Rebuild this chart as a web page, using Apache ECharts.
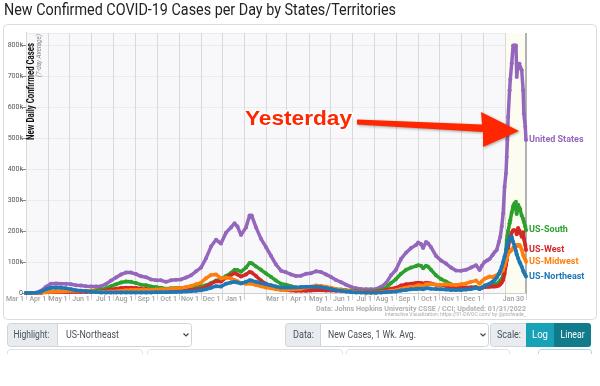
<!DOCTYPE html>
<html><head><meta charset="utf-8">
<script src="https://cdn.jsdelivr.net/npm/echarts@6/dist/echarts.min.js"></script>
<style>html,body{margin:0;padding:0;background:#fff}#c{width:600px;height:386px}</style>
</head><body><div id="c"></div>
<script>
// ---- data (thousands of cases, 7-day average) ----
const dates = ['2020-03-01','2020-03-08','2020-03-15','2020-03-22','2020-03-29','2020-04-05','2020-04-12','2020-04-19','2020-04-26','2020-05-03','2020-05-10','2020-05-17','2020-05-24','2020-05-31','2020-06-07','2020-06-14','2020-06-21','2020-06-28','2020-07-05','2020-07-12','2020-07-19','2020-07-26','2020-08-02','2020-08-09','2020-08-16','2020-08-23','2020-08-30','2020-09-06','2020-09-13','2020-09-20','2020-09-27','2020-10-04','2020-10-11','2020-10-18','2020-10-25','2020-11-01','2020-11-08','2020-11-15','2020-11-22','2020-11-29','2020-12-06','2020-12-13','2020-12-18','2020-12-22','2020-12-27','2021-01-03','2021-01-08','2021-01-11','2021-01-17','2021-01-24','2021-01-31','2021-02-07','2021-02-14','2021-02-21','2021-02-28','2021-03-07','2021-03-14','2021-03-21','2021-03-28','2021-04-04','2021-04-11','2021-04-18','2021-04-25','2021-05-02','2021-05-09','2021-05-16','2021-05-23','2021-05-30','2021-06-06','2021-06-13','2021-06-20','2021-06-27','2021-07-04','2021-07-11','2021-07-18','2021-07-25','2021-08-01','2021-08-08','2021-08-15','2021-08-22','2021-08-29','2021-09-01','2021-09-05','2021-09-08','2021-09-12','2021-09-15','2021-09-19','2021-09-26','2021-10-03','2021-10-10','2021-10-17','2021-10-24','2021-10-31','2021-11-07','2021-11-14','2021-11-21','2021-11-26','2021-11-29','2021-12-03','2021-12-07','2021-12-10','2021-12-14','2021-12-17','2021-12-20','2021-12-23','2021-12-25','2021-12-27','2021-12-29','2021-12-31','2022-01-02','2022-01-03','2022-01-04','2022-01-05','2022-01-07','2022-01-08','2022-01-10','2022-01-12','2022-01-14','2022-01-16','2022-01-17','2022-01-19','2022-01-21','2022-01-22','2022-01-24','2022-01-26','2022-01-27','2022-01-29','2022-01-30'];
const usCases = [0,0.1,1,7,20,30,31,30,30,28,25,24,22,21,21,22,29,40,50,60,66,66,61,54,51,44,41,41,36,41,43,44,50,57,70,82,112,150,172,160,195,212,225,215,187,212,250,250,212,175,148,120,92,72,67,60,55,56,62,64,70,68,60,52,42,35,27,20,15,13,12,12,13,20,32,57,75,110,130,145,155,163,158,145,165,160,148,120,105,95,82,73,72,75,82,90,74,87,100,106,110,122,132,139,165,182,215,257,343,387,440,494,569,655,690,742,800,800,800,698,741,741,730,720,655,580,537,494];
const southCases = [0,0.02,0.2,1.2,3,4.5,4.5,4.5,5,5.5,5.5,6,6.5,7.5,9,11,15,22,28,34,37,36,32,27,25,21,19,17,14,15,16,16,17,18,20,21,25,32,40,45,55,65,75,74,69,82,97,96,86,75,63,52,40,30,27,22,18,17,17,17,17,16,15,14,12,11,9,7,5.5,5,5,5.5,6.5,10,17,32,45,62,75,82,87,90,88,80,88,85,75,57,45,37,28,22,19,18,18,19,14,18,20,22,23,26,28,30,35,40,46,55,90,140,171,185,200,225,235,260,280,290,295,255,285,275,270,250,240,230,215,203];
const westCases = [0,0.05,0.3,1,2.5,3,3,3,3.3,3.5,3.5,3.5,3.5,4,5,6,8,11,14,16,17,17,16,14,13,10,8.5,8,6.5,7,7.5,8,9,10,12,14,20,30,38,37,50,58,64,60,53,60,68,66,55,40,30,22,15,11,10,8,7,7,7,8,8.5,8.5,8,8,7.5,7,6,5,4.5,4,4,4,4.5,6,9,14,17,24,28,30,32,33,32,30,33,32,31,27,25,23,20,18,17,17,18,18,14,16,19,20,20,21,21,22,24,28,34,42,62,90,106,125,145,172,182,195,203,203,200,190,210,200,195,182,196,175,155,139];
const midwestCases = [0,0.01,0.1,0.8,2.5,4,4.5,5,6.5,7,7,7,6.5,5.5,4.5,4,4,5,6,7.5,9,10,10,10,10,10,11,12,12,14,15,16,19,23,28,33,48,58,60,47,50,47,42,38,32,30,31,30,26,22,18,15,12,10,10,11,12,14,18,20,24,23,20,17,13,10,7,5,3,2.5,2,1.8,1.8,2.5,4,7,9,14,17,20,22,25,24,22,28,28,28,27,27,28,27,26,28,31,36,40,30,37,46,50,53,52,54,57,62,66,70,74,88,105,112,120,128,134,135,139,145,150,155,150,155,155,150,140,123,118,108,101];
const northeastCases = [0,0.05,0.5,4,12,17,18,17,15,12,9,7,5.5,4,3,2,1.8,1.5,1.5,1.8,2,2,2,2,2,2,2.2,2.3,2.5,3,3.5,4,5,5.5,7,8.5,12,17,22,21,30,34,36,34,31,36,41,40,36,32,28,25,21,18,18,18,18,19,20,20,20,19,16,13,9,7,4.5,3,2,1.5,1.2,1,1,1.5,2.5,4,5,8,10,12,13,14,14,12,15,15,14,13,12,11,10,10,10,11,13,16,13,16,24,27,30,36,42,50,62,72,85,100,118,135,145,155,165,177,180,182,165,150,135,125,112,100,95,85,72,66,58,53];
const seriesNames = ['United States','US-South','US-West','US-Midwest','US-Northeast'];
const seriesValues = [usCases, southCases, westCases, midwestCases, northeastCases];
const seriesColors = ['#9467bd','#2ca02c','#d62728','#ff7f0e','#1f77b4'];
// x ticks: every month start; labels (Feb 1 2021 & Jan 1 2022 unlabeled)
const gridDates = ['2020-03-01','2020-04-01','2020-05-01','2020-06-01','2020-07-01','2020-08-01','2020-09-01','2020-10-01','2020-11-01','2020-12-01','2021-01-01','2021-02-01','2021-03-01','2021-04-01','2021-05-01','2021-06-01','2021-07-01','2021-08-01','2021-09-01','2021-10-01','2021-11-01','2021-12-01','2022-01-01'];
const labelDates = ['2020-03-01','2020-04-01','2020-05-01','2020-06-01','2020-07-01','2020-08-01','2020-09-01','2020-10-01','2020-11-01','2020-12-01','2021-01-01','2021-03-01','2021-04-01','2021-05-01','2021-06-01','2021-07-01','2021-08-01','2021-09-01','2021-10-01','2021-11-01','2021-12-01','2022-01-30'];
const labelTexts = ['Mar 1','Apr 1','May 1','Jun 1','Jul 1','Aug 1','Sep 1','Oct 1','Nov 1','Dec 1','Jan 1','Mar 1','Apr 1','May 1','Jun 1','Jul 1','Aug 1','Sep 1','Oct 1','Nov 1','Dec 1','Jan 30'];
const xStart = '2020-03-01', xEnd = '2022-01-30';
const highlightStart = '2022-01-01';

function ts(s){const p=s.split('-');return Date.UTC(+p[0],+p[1]-1,+p[2]);}
const labelMap = {}; labelDates.forEach((d,i)=>labelMap[ts(d)] = labelTexts[i]);

// text fitting helper (matches condensed look of original)
const mctx = document.createElement('canvas').getContext('2d');
function fitText(str, x, y, w, size, o){
  o = o||{};
  const font = (o.style||'normal')+' '+(o.weight||'normal')+' '+size+'px '+(o.family||'Roboto');
  mctx.font = font; const m = mctx.measureText(str).width;
  const align = o.align||'left';
  return {type:'text', x:x, y:y, rotation:o.rotation||0, scaleX: w/m, scaleY:1, z: o.z||10,
    style:{text:str, x:0, y:0, font:font, fill:o.color||'#333', align:align, textAlign:align,
      verticalAlign:'middle', textVerticalAlign:'middle', stroke:o.stroke, lineWidth:o.lineWidth||0,
      shadowBlur:o.shadowBlur||0, shadowColor:o.shadowColor||'transparent'}};
}

const chart = echarts.init(document.getElementById('c'), null, {renderer:'canvas'});

const series = [{
  type:'line', data:[[ts(xStart),0]], z:1, silent:true, showSymbol:false, lineStyle:{width:0},
  markArea:{silent:true, z:1, itemStyle:{color:'#fcfcf0'}, data:[[{xAxis:ts(highlightStart)},{xAxis:ts(xEnd)}]]},
  markLine:{silent:true, z:2, symbol:['none','none'], label:{show:false}, animation:false,
    lineStyle:{color:'#d9d9d9', width:1, type:'solid'},
    data: gridDates.map(d=>({xAxis:ts(d)})).concat([{xAxis:ts(xEnd), lineStyle:{color:'#9a9a9a', width:1.5, type:'solid'}}])}
}];
seriesNames.forEach((n,i)=>{
  series.push({
    name:n, type:'line', z:3+i, animation:false,
    data: dates.map((d,k)=>[ts(d), seriesValues[i][k]*1000]),
    showSymbol:true, symbol:'circle', symbolSize:4,
    lineStyle:{width:3.5, color:seriesColors[i]}, itemStyle:{color:seriesColors[i]},
    emphasis:{disabled:true},
    endLabel:{show:true, formatter:'{a}', color:seriesColors[i], fontFamily:'Roboto', fontWeight:'bold', fontSize:9, distance:3}
  });
});

const G = [];
G.push({type:'rect', shape:{x:3.5,y:24.5,width:593,height:295,r:4}, style:{fill:'none', stroke:'#dcdcdc', lineWidth:1}, z:0});
G.push(fitText('New Confirmed COVID-19 Cases per Day by States/Territories', 4, 11, 392, 17, {color:'#222'}));
G.push(fitText('New Daily Confirmed Cases', 31, 140, 97, 10.5, {weight:'bold', rotation:Math.PI/2, color:'#111'}));
G.push(fitText('(7-day Average)', 39, 77, 43, 7.5, {style:'italic', rotation:Math.PI/2, color:'#888'}));
G.push(fitText('Data: Johns Hopkins University CSSE / CCI; Updated: 01/31/2022', 526, 309, 210, 8, {weight:'bold', color:'#b0b0b0', align:'right'}));
G.push(fitText('Interactive Visualization: https://91-DIVOC.com/ by @profwade_', 526, 314.5, 141, 5, {color:'#aaa', align:'right'}));
G.push({type:'polygon', z:20, shape:{points:[[357,119.5],[482,124.5],[481,112],[519,131],[483,147],[483,132],[357,124.5]]},
  style:{fill:'#ff2600', shadowBlur:3, shadowColor:'rgba(0,0,0,0.35)', shadowOffsetX:1, shadowOffsetY:1}});
G.push(fitText('Yesterday', 245, 119.5, 107, 21, {weight:'bold', family:'Liberation Sans', color:'#ff2600', stroke:'#fff', lineWidth:3, shadowBlur:3, shadowColor:'rgba(0,0,0,0.35)', z:21}));
function box(x,w,fill,r){return {type:'rect', z:5, shape:{x:x+0.5,y:323.5,width:w,height:23,r:r}, style:{fill:fill, stroke:'#ced4da', lineWidth:1}};}
G.push(box(7,50,'#e9ecef',[3,0,0,3]));
G.push(box(57,134,'#fff',[0,3,3,0]));
G.push(box(285,35,'#e9ecef',[3,0,0,3]));
G.push(box(320,168,'#fff',[0,3,3,0]));
G.push(box(490,36,'#e9ecef',[3,0,0,3]));
G.push({type:'rect', z:5, shape:{x:526,y:323,width:28,height:24}, style:{fill:'#17a2b8'}});
G.push({type:'rect', z:5, shape:{x:554,y:323,width:37,height:24,r:[0,3,3,0]}, style:{fill:'#117a8b'}});
G.push(fitText('Highlight:', 13.4, 335, 36, 11, {color:'#495057'}));
G.push(fitText('US-Northeast', 66, 335, 53, 11, {color:'#495057'}));
G.push(fitText('Data:', 293, 335, 21, 11, {color:'#495057'}));
G.push(fitText('New Cases, 1 Wk. Avg.', 328, 335, 88, 11, {color:'#495057'}));
G.push(fitText('Scale:', 497, 335, 24, 11, {color:'#495057'}));
G.push(fitText('Log', 532, 335, 16, 11, {color:'#fff'}));
G.push(fitText('Linear', 560.6, 335, 24, 11, {color:'#fff'}));
function chevron(cx){return {type:'polyline', z:6, shape:{points:[[cx-2.5,333.5],[cx,336],[cx+2.5,333.5]]}, style:{stroke:'#444', lineWidth:1.2, fill:'none'}};}
G.push(chevron(186)); G.push(chevron(483));
// second control row: only the top edges are visible
function topEdge(x,w,col){
  const a=x+0.5, b=x+w+0.5;
  return {type:'polyline', z:5, shape:{points:[[a,354],[a,352],[a+0.8,350.3],[a+2.5,349.5],[b-2.5,349.5],[b-0.8,350.3],[b,352],[b,354]]}, style:{fill:'none', stroke:col, lineWidth:1}};
}
G.push(topEdge(7,135,'#dee2e6')); G.push(topEdge(147,195,'#dee2e6')); G.push(topEdge(346,163,'#dee2e6')); G.push(topEdge(538,53,'#a8dbe3'));

chart.setOption({
  animation:false,
  grid:{left:26, right:74, top:33, bottom:93, show:true, backgroundColor:'#f8f8fb', borderWidth:0},
  xAxis:{type:'value', min:ts(xStart), max:ts(xEnd), scale:true,
    axisLine:{show:true, lineStyle:{color:'#cfcfcf'}},
    axisTick:{show:true, customValues:gridDates.map(ts).concat([ts(xEnd)]), length:7, lineStyle:{color:'#d0d0d0'}},
    axisLabel:{customValues:labelDates.map(ts), showMinLabel:true, showMaxLabel:true, hideOverlap:false,
      formatter:v=>labelMap[v]||'', align:'right',
      padding:[0,2,0,0], margin:3, fontSize:7, color:'#a0a0a0', fontFamily:'Roboto', fontWeight:500},
    splitLine:{show:false}},
  yAxis:{type:'value', min:0, max:840000, interval:100000,
    axisLine:{show:true, lineStyle:{color:'#888'}},
    axisTick:{show:true, length:4, lineStyle:{color:'#888'}},
    axisLabel:{showMaxLabel:false, fontSize:7, color:'#555', fontFamily:'Roboto', margin:3,
      formatter:v=>v===0?'0':(v/1000)+'k'},
    splitLine:{show:true, lineStyle:{color:'#ebebef'}}},
  series:series,
  graphic:{elements:G}
});
</script></body></html>
